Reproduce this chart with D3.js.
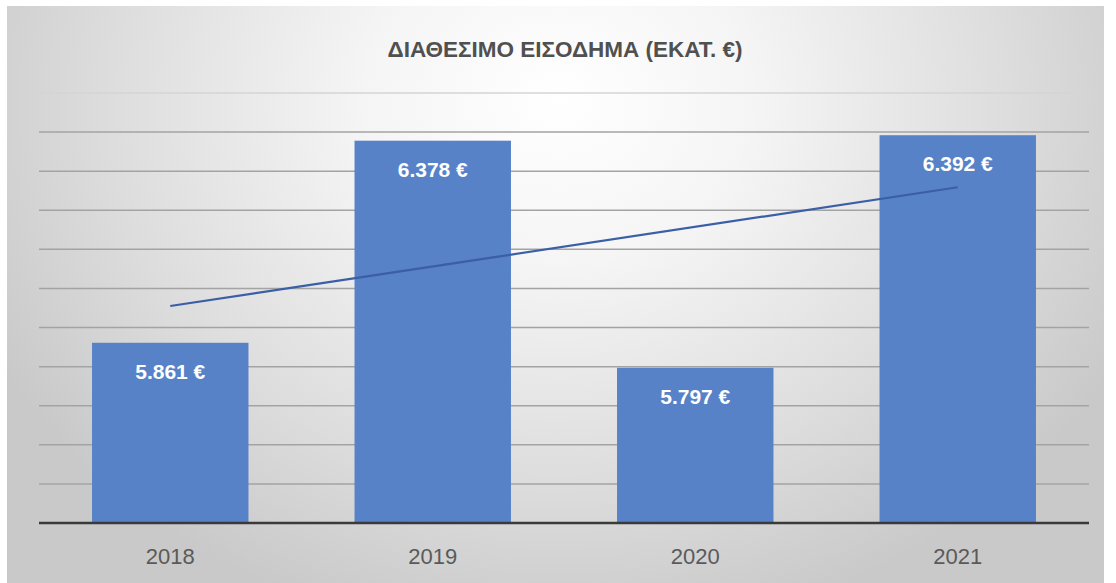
<!DOCTYPE html>
<html>
<head>
<meta charset="utf-8">
<script src="https://cdn.jsdelivr.net/npm/d3@7"></script>
<style>
  html, body { margin: 0; padding: 0; background: #ffffff; }
  svg { display: block; }
</style>
</head>
<body>
<svg id="chart" width="1116" height="583"></svg>
<script>
const title = "ΔΙΑΘΕΣΙΜΟ ΕΙΣΟΔΗΜΑ (ΕΚΑΤ. €)";
const categories = ["2018", "2019", "2020", "2021"];
const values = [5861, 6378, 5797, 6392];
const labels = ["5.861 €", "6.378 €", "5.797 €", "6.392 €"];
const yDomain = [5400, 6500];
const yTicks = [5400, 5500, 5600, 5700, 5800, 5900, 6000, 6100, 6200, 6300, 6400, 6500];

const svg = d3.select("#chart");
const plotLeft = 39, plotRight = 1089, plotTop = 93, plotBottom = 523;

// background
const defs = svg.append("defs");
const grad = defs.append("radialGradient")
  .attr("id", "bg")
  .attr("gradientUnits", "userSpaceOnUse")
  .attr("cx", 558).attr("cy", 100).attr("r", 640)
  .attr("gradientTransform", "translate(558,100) scale(1,0.85) translate(-558,-100)");
grad.append("stop").attr("offset", "0").attr("stop-color", "#ffffff");
grad.append("stop").attr("offset", "0.3").attr("stop-color", "#f5f5f5");
grad.append("stop").attr("offset", "0.7").attr("stop-color", "#dddddd");
grad.append("stop").attr("offset", "1").attr("stop-color", "#c9c9c9");

svg.append("rect").attr("x", 7).attr("y", 6).attr("width", 1097).attr("height", 577)
  .attr("fill", "url(#bg)");

const x = d3.scaleBand().domain(categories).range([plotLeft, plotRight]).paddingInner(0.404).paddingOuter(0.202);
const y = d3.scaleLinear().domain(yDomain).range([plotBottom, plotTop]);

// gridlines
svg.append("g").selectAll("line").data(yTicks.slice(1)).join("line")
  .attr("x1", plotLeft).attr("x2", plotRight)
  .attr("y1", d => y(d)).attr("y2", d => y(d))
  .attr("stroke", d => d === yDomain[1] ? "#d4d4d4" : "#a3a3a3")
  .attr("stroke-width", 1.5);

// bars
svg.append("g").selectAll("rect").data(values).join("rect")
  .attr("x", (d, i) => x(categories[i]))
  .attr("width", x.bandwidth())
  .attr("y", d => y(d))
  .attr("height", d => y(yDomain[0]) - y(d))
  .attr("fill", "#5882c8");

// baseline
svg.append("line").attr("x1", plotLeft).attr("x2", plotRight)
  .attr("y1", y(yDomain[0])).attr("y2", y(yDomain[0]))
  .attr("stroke", "#3a3a3a").attr("stroke-width", 2.5);

// linear trendline (least squares)
const xs = values.map((d, i) => i + 1);
const mx = d3.mean(xs), my = d3.mean(values);
const slope = d3.sum(xs.map((xi, i) => (xi - mx) * (values[i] - my))) / d3.sum(xs.map(xi => (xi - mx) ** 2));
const intercept = my - slope * mx;
const trend = categories.map((c, i) => ({ c, v: intercept + slope * (i + 1) }));
svg.append("path")
  .datum([trend[0], trend[trend.length - 1]])
  .attr("d", d3.line().x(d => x(d.c) + x.bandwidth() / 2).y(d => y(d.v)))
  .attr("fill", "none").attr("stroke", "#3b5fa6").attr("stroke-width", 2.2);

// data labels
svg.append("g").selectAll("text").data(values).join("text")
  .attr("x", (d, i) => x(categories[i]) + x.bandwidth() / 2)
  .attr("y", d => y(d) + 36)
  .attr("text-anchor", "middle")
  .attr("font-family", "'Liberation Sans', Arial, sans-serif")
  .attr("font-weight", "bold")
  .attr("font-size", 21)
  .attr("fill", "#ffffff")
  .text((d, i) => labels[i]);

// x axis labels
const xAxis = d3.axisBottom(x).tickSize(0).tickPadding(0);
const gx = svg.append("g").attr("transform", `translate(0,${plotBottom})`).call(xAxis);
gx.select(".domain").remove();
gx.selectAll("text")
  .attr("dy", 0).attr("y", 41)
  .attr("font-family", "'Liberation Sans', Arial, sans-serif")
  .attr("font-size", 22)
  .attr("fill", "#5a5a5a");

// title
svg.append("text")
  .attr("x", 565).attr("y", 57)
  .attr("text-anchor", "middle")
  .attr("font-family", "'Liberation Sans', Arial, sans-serif")
  .attr("font-weight", "bold")
  .attr("font-size", 22.5)
  .attr("fill", "#505050")
  .text(title);
</script>
</body>
</html>
